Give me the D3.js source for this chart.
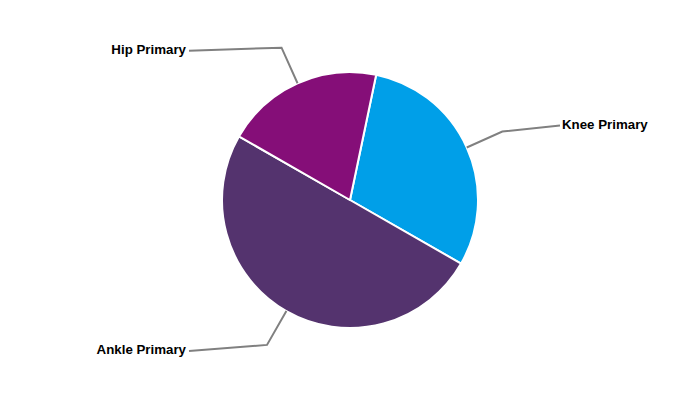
<!DOCTYPE html>
<html><head><meta charset="utf-8">
<script src="https://cdn.jsdelivr.net/npm/d3@7"></script>
<style>body{margin:0;background:#fff}svg{display:block}</style>
</head><body>
<svg id="c" width="700" height="400"></svg>
<script>
const categories = ["Knee Primary", "Ankle Primary", "Hip Primary"];
const values = [30, 50, 20];
const colors = ["#009FE8", "#54336E", "#850E78"];

const W = 700, H = 400, cx = 350, cy = 200, R = 128;
const svg = d3.select("#c");
const g = svg.append("g").attr("transform", `translate(${cx},${cy})`);
const startOff = 11.8 * Math.PI / 180;
const pie = d3.pie().sort(null).value(d => d.v)
  .startAngle(startOff).endAngle(startOff + 2 * Math.PI);
const data = categories.map((c, i) => ({c, v: values[i], col: colors[i]}));
const arcs = pie(data);
const arc = d3.arc().innerRadius(0).outerRadius(R);

g.selectAll("path.s").data(arcs).join("path").attr("class", "s")
  .attr("d", arc).attr("fill", d => d.data.col)
  .attr("stroke", "#fff").attr("stroke-width", 2).attr("stroke-linejoin", "round");

// leader lines
const labelEndX = {left: -161, right: 210};
const labelDy = {"Knee Primary": -6, "Ankle Primary": 6, "Hip Primary": 3};
arcs.forEach(a => {
  const m = (a.startAngle + a.endAngle) / 2;
  const p0 = [R * Math.sin(m), -R * Math.cos(m)];
  const p1 = [167 * Math.sin(m), -167 * Math.cos(m)];
  const right = Math.sin(m) > 0;
  const p2 = [right ? labelEndX.right : labelEndX.left, p1[1] + labelDy[a.data.c]];
  g.append("path").attr("d", d3.line()([p0, p1, p2]))
    .attr("fill", "none").attr("stroke", "#808080").attr("stroke-width", 2);
  g.append("text").attr("x", p2[0] + (right ? 2 : -3)).attr("y", p2[1] - 1.5)
    .attr("dy", "0.35em").attr("text-anchor", right ? "start" : "end")
    .attr("font-family", "Liberation Sans, Arial, sans-serif")
    .attr("font-weight", "bold").attr("font-size", 13.3).attr("fill", "#000")
    .text(a.data.c);
});
</script>
</body></html>
